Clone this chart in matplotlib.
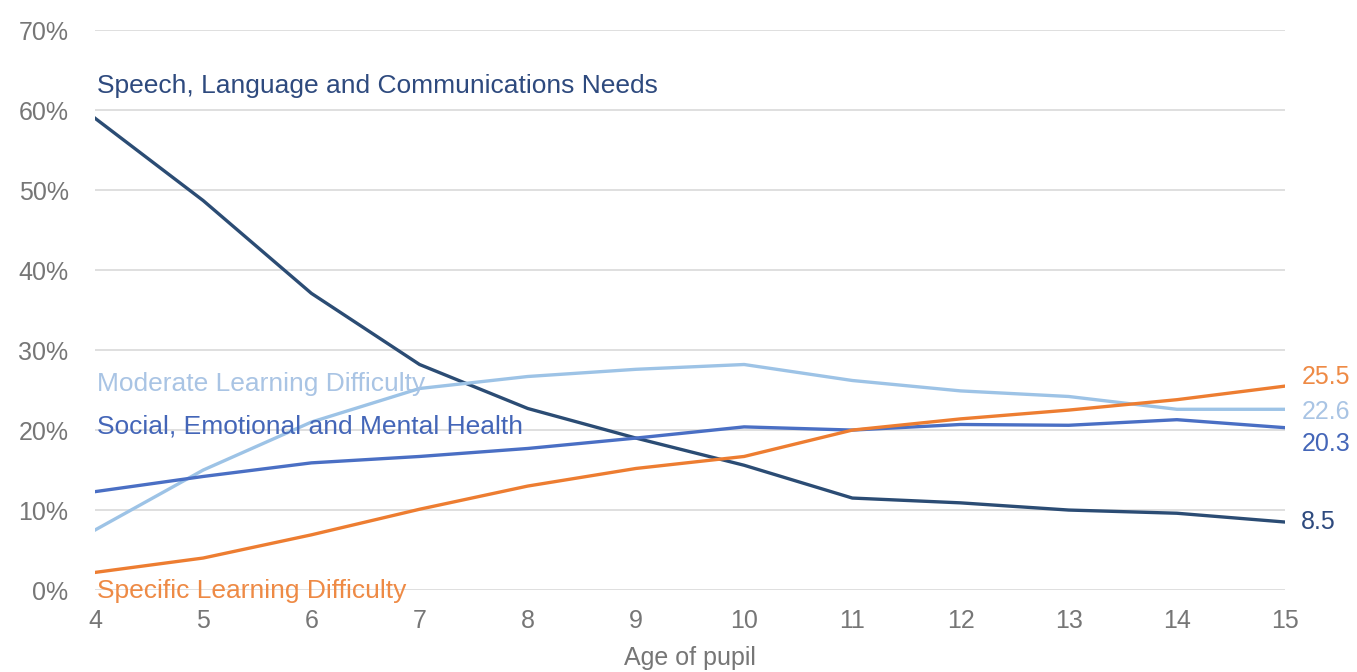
import matplotlib
matplotlib.use("Agg")
import matplotlib.pyplot as plt
from matplotlib.ticker import FuncFormatter

plt.rcParams['font.family'] = ['Liberation Sans', 'DejaVu Sans']

ages = [4, 5, 6, 7, 8, 9, 10, 11, 12, 13, 14, 15]
slcn = [59.0, 48.7, 37.1, 28.2, 22.7, 19.0, 15.6, 11.5, 10.9, 10.0, 9.6, 8.5]
mld = [7.5, 15.0, 21.0, 25.2, 26.7, 27.6, 28.2, 26.2, 24.9, 24.2, 22.6, 22.6]
semh = [12.3, 14.2, 15.9, 16.7, 17.7, 19.0, 20.4, 20.0, 20.7, 20.6, 21.3, 20.3]
spld = [2.2, 4.0, 6.9, 10.1, 13.0, 15.2, 16.7, 20.0, 21.4, 22.5, 23.8, 25.5]

series = [
    ("Speech, Language and Communications Needs", slcn, "#2B4C74", "#2E4A7E"),
    ("Moderate Learning Difficulty", mld, "#9DC3E6", "#A9C4E4"),
    ("Social, Emotional and Mental Health", semh, "#4A6FC4", "#4466B8"),
    ("Specific Learning Difficulty", spld, "#ED7D31", "#EE8A45"),
]
name_pos = {  # (x, y) in data coords for the series name labels
    "Speech, Language and Communications Needs": (4.02, 63.0),
    "Moderate Learning Difficulty": (4.02, 25.8),
    "Social, Emotional and Mental Health": (4.02, 20.4),
    "Specific Learning Difficulty": (4.02, -0.1),
}
end_offsets = {"Speech, Language and Communications Needs": 0.0,
               "Moderate Learning Difficulty": -0.4,
               "Social, Emotional and Mental Health": -2.0,
               "Specific Learning Difficulty": 1.2}

fig = plt.figure(figsize=(13.57, 6.72), dpi=100)
ax = fig.add_axes([0.070, 0.122, 0.877, 0.833])

FS = 18
for name, vals, lc, tc in series:
    ax.plot(ages, vals, color=lc, lw=2.4, solid_joinstyle='round', zorder=3)
    x, y = name_pos[name]
    ax.text(x, y, name, color=tc, fontsize=19, va='center', ha='left', zorder=4)
    ax.text(15.15, vals[-1] + end_offsets[name], f"{vals[-1]:.1f}", color=tc,
            fontsize=FS, va='center', ha='left', clip_on=False)

ax.set_xlim(4, 15)
ax.set_ylim(0, 70)
ax.set_xticks(ages)
ax.set_yticks(range(0, 71, 10))
ax.yaxis.set_major_formatter(FuncFormatter(lambda v, p: f"{int(v)}%"))
ax.grid(axis='y', color='#D9D9D9', lw=1.2)
ax.set_axisbelow(True)
for s in ax.spines.values():
    s.set_visible(False)
ax.tick_params(axis='both', length=0, labelsize=FS, labelcolor='#767676')
ax.tick_params(axis='y', pad=19)
ax.tick_params(axis='x', pad=14)
ax.set_xlabel("Age of pupil", fontsize=FS, color='#767676', labelpad=9)

fig.savefig("out.png", dpi=100)
